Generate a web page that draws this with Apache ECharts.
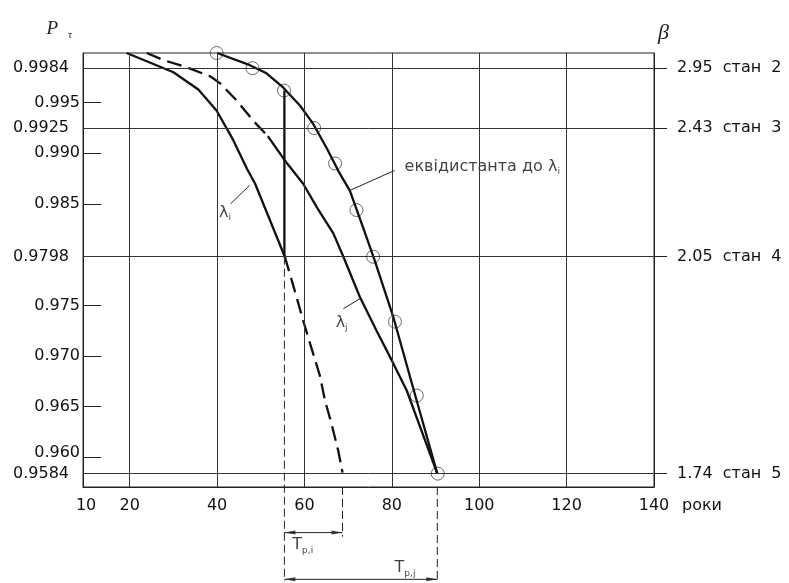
<!DOCTYPE html>
<html lang="uk">
<head>
    <meta charset="UTF-8">
    <title>P τ / роки</title>
    <script src="https://cdn.jsdelivr.net/npm/echarts@6/dist/echarts.min.js"></script>
    <style>
        html, body, #chart {
            width: 789px;
            height: 583px;
            padding: 0;
            margin: 0;
            background: #fff;
        }
    </style>
</head>
<body>
<div id="chart"></div>
<script>
    // axes
    var xTickLabels = [10, 20, 40, 60, 80, 100, 120, 140];
    var xGridLines = [20, 40, 60, 80, 100, 120];
    var yTickValues = [0.995, 0.990, 0.985, 0.975, 0.970, 0.965, 0.960];
    var yTickLabels = ["0.995", "0.990", "0.985", "0.975", "0.970", "0.965", "0.960"];
    var yGridValues = [0.9984, 0.9925, 0.9798, 0.9584];
    var yGridLabels = ["0.9984", "0.9925", "0.9798", "0.9584"];
    var betaLabels = ["2.95  стан  2", "2.43  стан  3", "2.05  стан  4", "1.74  стан  5"];

    // lambda i (solid part, then dashed continuation)
    var liYears = [19.3, 30.0, 35.7, 39.9, 43.7, 46.8, 48.7, 52.1, 55.5];
    var liP = [0.9999, 0.9980, 0.9963, 0.9942, 0.9913, 0.9885, 0.9870, 0.9834, 0.9798];
    var liExtYears = [55.5, 57.4, 59.7, 61.3, 63.5, 64.7, 66.2, 67.7, 68.7];
    var liExtP = [0.9798, 0.9770, 0.9735, 0.9712, 0.9681, 0.9656, 0.9633, 0.9607, 0.9585];

    // lambda j (dashed start, then solid)
    var ljDashYears = [23.9, 27.7, 33.0, 38.4, 40.7, 44.5, 48.3, 51.6];
    var ljDashP = [0.9999, 0.9992, 0.9985, 0.9976, 0.9969, 0.9952, 0.9932, 0.9917];
    var ljYears = [51.6, 55.5, 59.7, 62.8, 66.6, 68.9, 72.7, 76.5, 80.3, 83.4, 90.4];
    var ljP = [0.9917, 0.9893, 0.9870, 0.9847, 0.9821, 0.9798, 0.9758, 0.9725, 0.9693, 0.9666, 0.9584];

    // equidistant to lambda i
    var eqYears = [40.0, 47.5, 51.3, 55.1, 59.0, 62.0, 65.1, 67.7, 70.4, 73.4, 76.1, 80.3, 84.9, 90.4];
    var eqP = [0.9999, 0.9987, 0.9979, 0.9965, 0.9947, 0.9929, 0.9905, 0.9883, 0.9863, 0.9827, 0.9794, 0.9739, 0.9668, 0.9584];
    var circleYears = [39.9, 48.1, 55.3, 62.2, 67.0, 71.9, 75.7, 80.7, 85.7, 90.5];
    var circleP = [0.9999, 0.9984, 0.9962, 0.9925, 0.9890, 0.9844, 0.9798, 0.9734, 0.9661, 0.9584];

    // jump at T_p start
    var jumpYears = [55.4, 55.4];
    var jumpP = [0.9798, 0.9962];

    // dimension lines: start, end of T_p,i, end of T_p,j
    var tpYears = [55.4, 68.7, 90.4];
    var tpLevels = [0.95258, 0.94797];

    var Y_MIN = 0.95708, Y_MAX = 0.9999;
    var FONT = "DejaVu Sans";
    var INK = "#111";

    function zip(xs, ys) {
        return xs.map(function (x, i) {
            return [x, ys[i]];
        });
    }

    function pick(values, labels) {
        return function (v) {
            for (var i = 0; i < values.length; i++) {
                if (Math.abs(values[i] - v) < 1e-7) return labels[i];
            }
            return "";
        };
    }

    function curve(xs, ys, dashed, width) {
        return {
            type: "line",
            data: zip(xs, ys),
            symbol: "none",
            clip: false,
            silent: true,
            lineStyle: {color: INK, width: width || 2.3, type: dashed ? [15, 7] : "solid"}
        };
    }

    function thin(xs, ys, dashed) {
        return {
            type: "line",
            data: zip(xs, ys),
            symbol: "none",
            clip: false,
            silent: true,
            lineStyle: {color: "#222", width: 1, type: dashed ? [8, 4] : "solid"}
        };
    }

    function textAt(x, y, text, align) {
        return {
            type: "scatter",
            data: [[x, y]],
            symbolSize: 1,
            clip: false,
            silent: true,
            itemStyle: {color: "rgba(0,0,0,0)"},
            label: {
                show: true,
                position: "inside",
                align: align || "center",
                formatter: text,
                color: INK,
                fontFamily: FONT,
                rich: {
                    l: {fontSize: 16, fontFamily: FONT, color: INK, lineHeight: 20},
                    t: {fontSize: 16, fontFamily: FONT, color: INK, lineHeight: 20},
                    s: {fontSize: 9, fontFamily: FONT, color: INK, verticalAlign: "bottom", lineHeight: 12}
                }
            }
        };
    }

    function arrowHead(x, y, pointLeft) {
        return {
            type: "scatter",
            data: [[x, y]],
            symbol: "triangle",
            symbolSize: [4, 11],
            symbolRotate: pointLeft ? 90 : -90,
            symbolOffset: [pointLeft ? 5.5 : -5.5, 0],
            clip: false,
            silent: true,
            itemStyle: {color: INK}
        };
    }

    var chart = echarts.init(document.getElementById("chart"));

    var gridMarks = yGridValues.map(function (v) {
        return {yAxis: v};
    }).concat(xGridLines.map(function (v) {
        return {xAxis: v};
    }));

    chart.setOption({
        animation: false,
        backgroundColor: "#fff",
        textStyle: {fontFamily: FONT, color: INK},
        grid: {
            left: 83, right: 135, top: 53, bottom: 96,
            show: true, borderColor: "#222", borderWidth: 1,
            containLabel: false, outerBoundsMode: "none"
        },
        xAxis: {
            type: "value",
            min: 9.3,
            max: 140,
            name: "роки",
            nameLocation: "end",
            nameGap: 28,
            nameTextStyle: {fontSize: 16, color: INK, align: "left", verticalAlign: "top", padding: [11, 0, 0, 0]},
            axisLine: {show: true, lineStyle: {color: "#222", width: 1}},
            axisTick: {show: false},
            splitLine: {show: false},
            axisLabel: {customValues: xTickLabels, margin: 11, fontSize: 16, color: INK, fontFamily: FONT}
        },
        yAxis: [{
            type: "value",
            position: "left",
            min: Y_MIN,
            max: Y_MAX,
            name: "{p|P}{t|τ}",
            nameLocation: "end",
            nameGap: 24,
            nameTextStyle: {
                align: "right",
                verticalAlign: "middle",
                padding: [0, 11, 0, 0],
                rich: {
                    p: {fontFamily: "Liberation Serif", fontStyle: "italic", fontSize: 19, color: "#222", lineHeight: 24},
                    t: {fontFamily: "Liberation Serif", fontStyle: "italic", fontSize: 11, color: "#222", padding: [0, 0, 0, 10], verticalAlign: "bottom", lineHeight: 12}
                }
            },
            axisLine: {show: true, lineStyle: {color: "#222", width: 1}},
            axisTick: {show: true, inside: true, length: 18, customValues: yTickValues, lineStyle: {color: "#222"}},
            splitLine: {show: false},
            axisLabel: {
                customValues: yTickValues,
                margin: 3,
                fontSize: 16,
                color: INK,
                fontFamily: FONT,
                formatter: function (v) {
                    var s = pick(yTickValues, yTickLabels)(v);
                    return s === "0.960" ? "{up|" + s + "}" : s;
                },
                rich: {up: {fontSize: 16, fontFamily: FONT, color: INK, padding: [0, 0, 10, 0]}}
            }
        }, {
            type: "value",
            position: "right",
            min: Y_MIN,
            max: Y_MAX,
            name: "β",
            nameLocation: "end",
            nameGap: 20,
            nameTextStyle: {fontFamily: "Liberation Serif", fontStyle: "italic", fontSize: 22, color: "#222", align: "left", verticalAlign: "middle", padding: [0, 0, 0, 4]},
            axisLine: {show: true, lineStyle: {color: "#222", width: 1}},
            axisTick: {show: true, inside: false, length: 13, customValues: yGridValues, lineStyle: {color: "#222"}},
            splitLine: {show: false},
            axisLabel: {
                customValues: yGridValues,
                margin: 23,
                fontSize: 16,
                color: INK,
                fontFamily: FONT,
                formatter: pick(yGridValues, betaLabels)
            }
        }, {
            type: "value",
            position: "left",
            min: Y_MIN,
            max: Y_MAX,
            axisLine: {show: false},
            axisTick: {show: false},
            splitLine: {show: false},
            axisLabel: {
                customValues: yGridValues,
                margin: 14,
                fontSize: 16,
                color: INK,
                fontFamily: FONT,
                formatter: pick(yGridValues, yGridLabels)
            }
        }],
        series: [
            {
                type: "line",
                data: [],
                silent: true,
                markLine: {
                    silent: true,
                    symbol: "none",
                    precision: 5,
                    label: {show: false},
                    animation: false,
                    lineStyle: {color: "#333", width: 1, type: "solid"},
                    emphasis: {disabled: true},
                    data: gridMarks
                }
            },
            curve(liYears, liP, false),
            curve(liExtYears, liExtP, true),
            curve(ljDashYears, ljDashP, true),
            curve(ljYears, ljP, false),
            curve(eqYears, eqP, false),
            curve(jumpYears, jumpP, false),
            {
                type: "scatter",
                data: zip(circleYears, circleP),
                symbol: "circle",
                symbolSize: 13,
                clip: false,
                silent: true,
                itemStyle: {color: "rgba(0,0,0,0)", borderColor: "#444", borderWidth: 1}
            },
            // dimension extension lines
            thin([tpYears[0], tpYears[0]], [jumpP[0], tpLevels[1] - 0.0002], true),
            thin([tpYears[1], tpYears[1]], [Y_MIN, tpLevels[0] - 0.0004], true),
            thin([tpYears[2], tpYears[2]], [Y_MIN, tpLevels[1] - 0.0002], true),
            // dimension lines with arrows
            thin([tpYears[0], tpYears[1]], [tpLevels[0], tpLevels[0]], false),
            thin([tpYears[0], tpYears[2]], [tpLevels[1], tpLevels[1]], false),
            arrowHead(tpYears[0], tpLevels[0], true),
            arrowHead(tpYears[1], tpLevels[0], false),
            arrowHead(tpYears[0], tpLevels[1], true),
            arrowHead(tpYears[2], tpLevels[1], false),
            // leader lines
            thin([43.1, 47.4], [0.98503, 0.98683], false),
            thin([68.9, 72.7], [0.97467, 0.97566], false),
            thin([70.4, 80.6], [0.98634, 0.98831], false),
            // labels
            textAt(41.8, 0.98417, "{l|λ}{s|i}"),
            textAt(68.5, 0.97332, "{l|λ}{s|j}"),
            textAt(82.9, 0.98871, "{t|еквідистанта до }{l|λ}{s|i}", "left"),
            textAt(59.6, 0.95133, "{t|T}{s|p,i}"),
            textAt(83.0, 0.94906, "{t|T}{s|p,j}")
        ]
    });
</script>
</body>
</html>
